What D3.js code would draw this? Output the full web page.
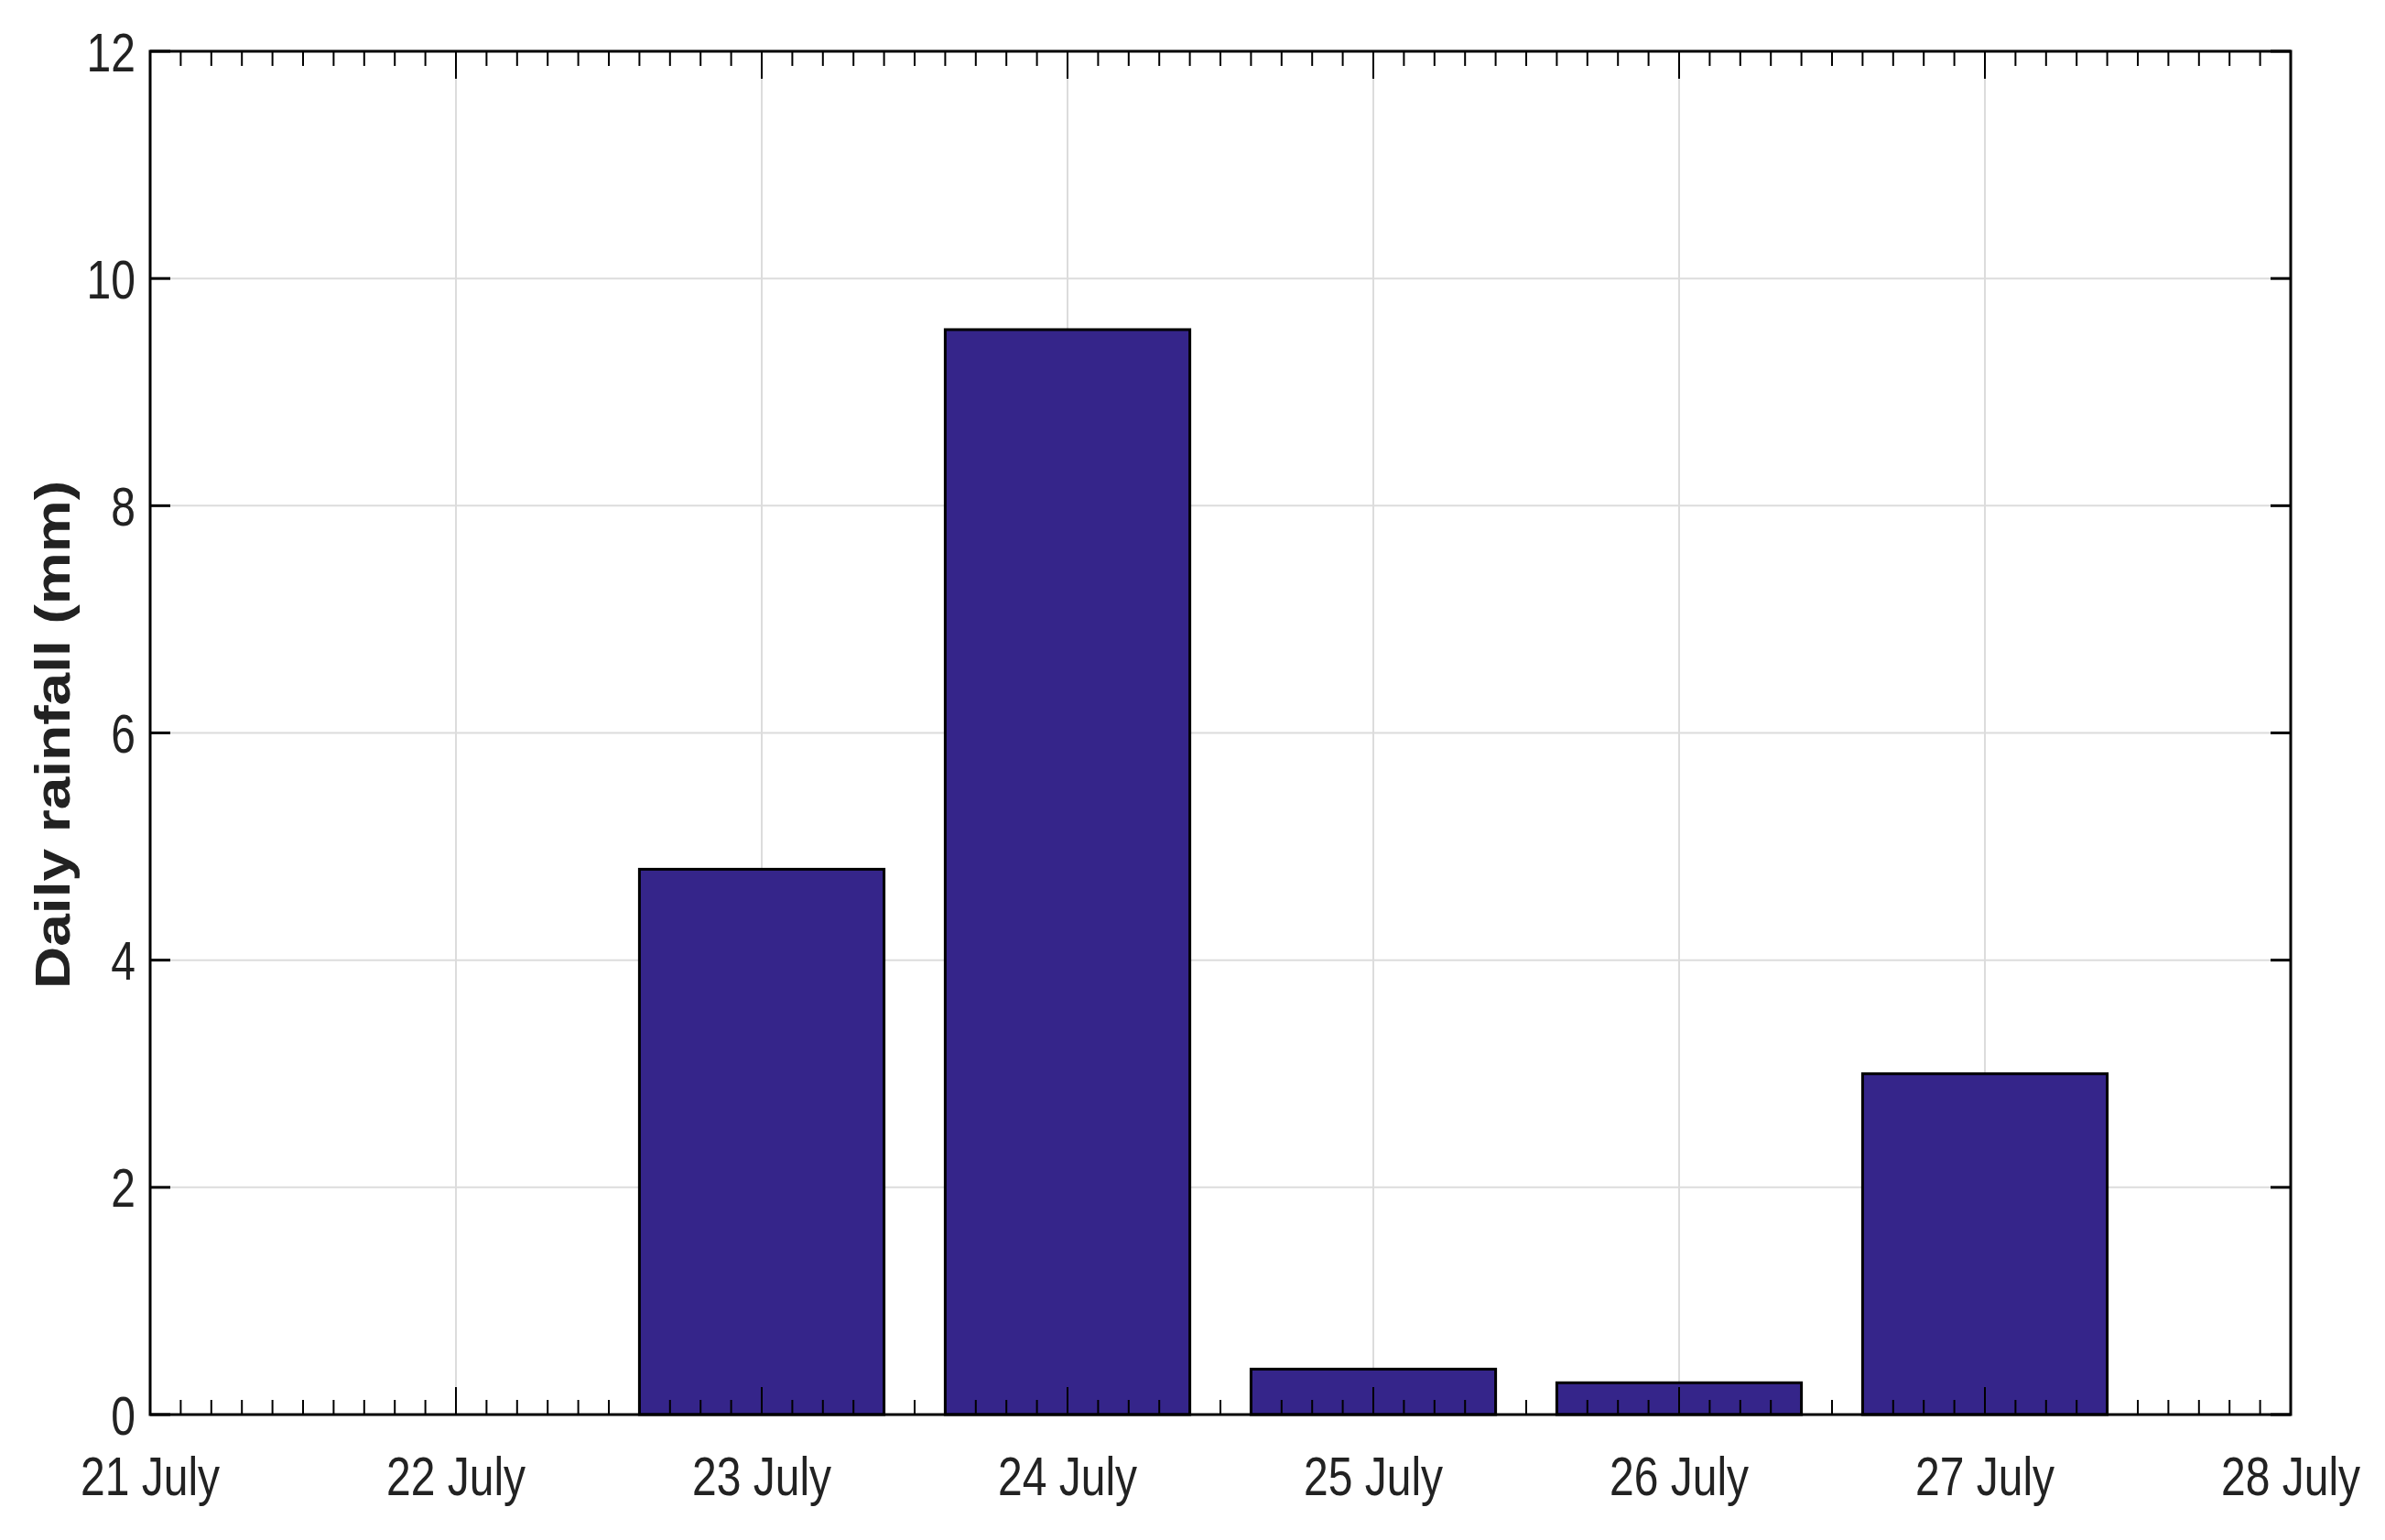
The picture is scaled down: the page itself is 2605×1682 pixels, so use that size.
<!DOCTYPE html>
<html><head><meta charset="utf-8">
<script src="https://cdn.jsdelivr.net/npm/d3@7"></script>
<style>body{margin:0;background:#fff}</style></head>
<body><svg id="c" width="2605" height="1682"></svg>
<script>
const dayLabels = ["21 July","22 July","23 July","24 July","25 July","26 July","27 July","28 July"];
const barDays = [2,3,4,5,6];
const barValues = [4.8, 9.55, 0.4, 0.28, 3.0];
const yTicks = [0,2,4,6,8,10,12];

const svg = d3.select("#c");
const L=164,R=2502,T=56,B=1545;
const x = d3.scaleLinear().domain([0,7]).range([L,R]);
const y = d3.scaleLinear().domain([0,12]).range([B,T]);
const nf = "'Liberation Sans',Arial,sans-serif";
const sx = 0.8;

svg.append("g").selectAll("line").data(d3.range(1,7)).join("line")
  .attr("x1",d=>x(d)).attr("x2",d=>x(d)).attr("y1",T).attr("y2",B)
  .attr("stroke","#dcdcdc").attr("stroke-width",2);
svg.append("g").selectAll("line").data(yTicks.slice(1,-1)).join("line")
  .attr("x1",L).attr("x2",R).attr("y1",d=>y(d)).attr("y2",d=>y(d))
  .attr("stroke","#dcdcdc").attr("stroke-width",2);

const bw = x(0.8)-x(0);
svg.append("g").selectAll("rect").data(barDays.map((d,i)=>({d,v:barValues[i]}))).join("rect")
  .attr("x",d=>x(d.d)-bw/2).attr("width",bw)
  .attr("y",d=>y(d.v)).attr("height",d=>y(0)-y(d.v))
  .attr("fill","#35258a").attr("stroke","#000").attr("stroke-width",3);

const minor = d3.range(0,70.01,1).map(i=>i/10);
svg.append("g").selectAll("line").data(minor).join("line")
  .attr("x1",d=>x(d)).attr("x2",d=>x(d)).attr("y1",B).attr("y2",d=>B-(Math.abs(d-Math.round(d))<1e-6?30:16))
  .attr("stroke","#000").attr("stroke-width",2);
svg.append("g").selectAll("line").data(minor).join("line")
  .attr("x1",d=>x(d)).attr("x2",d=>x(d)).attr("y1",T).attr("y2",d=>T+(Math.abs(d-Math.round(d))<1e-6?30:16))
  .attr("stroke","#000").attr("stroke-width",2);
svg.append("g").selectAll("line").data(yTicks).join("line")
  .attr("x1",L).attr("x2",L+22).attr("y1",d=>y(d)).attr("y2",d=>y(d)).attr("stroke","#000").attr("stroke-width",3);
svg.append("g").selectAll("line").data(yTicks).join("line")
  .attr("x1",R).attr("x2",R-22).attr("y1",d=>y(d)).attr("y2",d=>y(d)).attr("stroke","#000").attr("stroke-width",3);

svg.append("rect").attr("x",L).attr("y",T).attr("width",R-L).attr("height",B-T)
  .attr("fill","none").attr("stroke","#000").attr("stroke-width",3);

svg.append("g").selectAll("text").data(yTicks).join("text")
  .attr("transform",d=>`translate(${L-16},${y(d)}) scale(${sx},1)`)
  .attr("dy","0.36em").attr("text-anchor","end")
  .attr("font-family",nf).attr("font-size",60).attr("fill","#222").text(d=>d);
svg.append("g").selectAll("text").data(dayLabels).join("text")
  .attr("transform",(d,i)=>`translate(${x(i)},${B+88}) scale(${sx},1)`)
  .attr("text-anchor","middle")
  .attr("font-family",nf).attr("font-size",60).attr("fill","#222").text(d=>d);
svg.append("text").attr("transform",`translate(76,${(T+B)/2+2}) rotate(-90)`)
  .attr("text-anchor","middle").attr("font-family",nf).attr("font-weight","bold")
  .attr("font-size",54).attr("textLength",555).attr("lengthAdjust","spacingAndGlyphs")
  .attr("fill","#222").text("Daily rainfall (mm)");
</script></body></html>
